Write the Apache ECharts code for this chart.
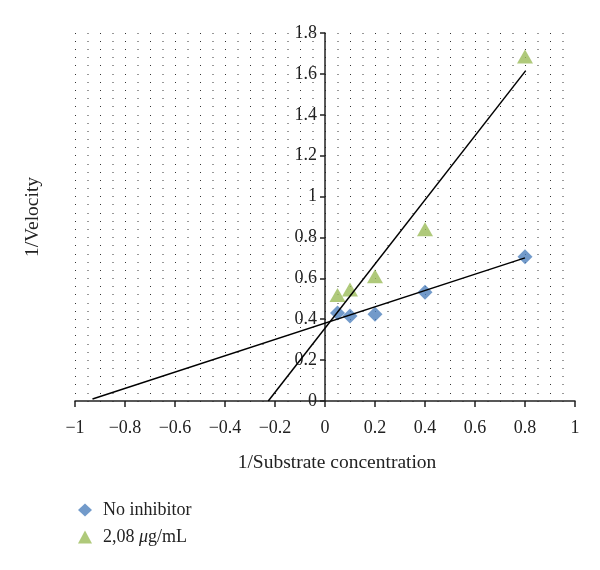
<!DOCTYPE html>
<html>
<head>
<meta charset="utf-8">
<script src="https://cdn.jsdelivr.net/npm/echarts@6/dist/echarts.min.js"></script>
<style>
  html, body { margin: 0; padding: 0; background: #fff; }
  #chart { width: 600px; height: 570px; }
</style>
</head>
<body>
<div id="chart"></div>
<script>
// 1/S values used for both data sets
const substrateInv = [0.05, 0.1, 0.2, 0.4, 0.8];
const noInhibitor = [0.43, 0.416, 0.424, 0.532, 0.706];
const inhibitor = [0.519, 0.545, 0.61, 0.84, 1.685];
// trendline end points
const noInhibitorTrend = [[-0.93, 0.01], [0.8, 0.70]];
const inhibitorTrend = [[-0.227, 0], [0.803, 1.616]];
const xTicks = { min: -1, max: 1, interval: 0.2 };
const yTicks = { min: 0, max: 1.8, interval: 0.2 };

const font = "'Liberation Serif', 'DejaVu Serif', serif";
const ink = "#222";
const dots = { color: "#333", width: 1, type: [1, 11.5] };

const chart = echarts.init(document.getElementById("chart"));

const fmt = (v) => {
  if (Math.abs(v) < 1e-9) return "0";
  const s = String(Math.round(v * 10) / 10);
  return s.replace("-", "\u2212");
};

chart.setOption({
  animation: false,
  grid: { left: 75, right: 25, top: 33, bottom: 169 },
  legend: {
    orient: "vertical",
    left: 73,
    top: 496,
    itemWidth: 14,
    itemHeight: 13,
    itemGap: 9,
    data: ["No inhibitor", "2,08 \u03bcg/mL"],
    formatter(name) {
      return name.replace("\u03bc", "{i|\u03bc}");
    },
    textStyle: {
      fontFamily: font,
      fontSize: 18,
      color: ink,
      padding: [0, 0, 0, 6],
      rich: { i: { fontFamily: font, fontSize: 18, fontStyle: "italic", color: ink } },
    },
  },
  xAxis: {
    type: "value",
    min: xTicks.min,
    max: xTicks.max,
    interval: xTicks.interval,
    name: "1/Substrate concentration",
    nameLocation: "middle",
    nameGap: 52,
    nameTextStyle: { fontFamily: font, fontSize: 19.5, color: ink, padding: [0, 0, 0, 24] },
    axisLine: { onZero: false, lineStyle: { color: ink, width: 1.5 } },
    axisTick: { show: true, length: 6, lineStyle: { color: ink, width: 1.5 } },
    axisLabel: { fontFamily: font, fontSize: 18, color: ink, margin: 18, formatter: fmt },
    splitLine: { show: false },
  },
  yAxis: [
    {
      type: "value",
      position: "left",
      offset: -250, // puts the axis on x = 0
      min: yTicks.min,
      max: yTicks.max,
      interval: yTicks.interval,
      axisLine: { show: true, onZero: false, lineStyle: { color: ink, width: 1.5 } },
      axisTick: { show: true, length: 5, lineStyle: { color: ink, width: 1.5 } },
      axisLabel: { fontFamily: font, fontSize: 18, color: ink, margin: 8, formatter: fmt },
      splitLine: { show: true, lineStyle: dots },
      minorTick: { show: false, splitNumber: 5 },
      minorSplitLine: { show: true, lineStyle: dots },
    },
    {
      // only carries the axis title on the left edge
      type: "value",
      position: "left",
      min: yTicks.min,
      max: yTicks.max,
      name: "1/Velocity",
      nameLocation: "middle",
      nameGap: 32,
      nameTextStyle: { fontFamily: font, fontSize: 19.5, color: ink },
      axisLine: { show: false, onZero: false },
      axisTick: { show: false },
      axisLabel: { show: false },
      splitLine: { show: false },
    },
  ],
  series: [
    {
      name: "No inhibitor trend",
      type: "line",
      data: noInhibitorTrend,
      symbol: "none",
      lineStyle: { color: "#000", width: 1.5 },
      z: 3,
    },
    {
      name: "2,08 trend",
      type: "line",
      data: inhibitorTrend,
      symbol: "none",
      lineStyle: { color: "#000", width: 1.5 },
      z: 3,
    },
    {
      name: "No inhibitor",
      type: "scatter",
      symbol: "diamond",
      symbolSize: [15, 15],
      itemStyle: { color: "#4F81BD" },
      data: substrateInv.map((x, i) => [x, noInhibitor[i]]),
      z: 2,
    },
    {
      name: "2,08 \u03bcg/mL",
      type: "scatter",
      symbol: "triangle",
      symbolSize: [16, 14],
      itemStyle: { color: "#9BBB59" },
      data: substrateInv.map((x, i) => [x, inhibitor[i]]),
      z: 2,
    },
  ],
});
</script>
</body>
</html>
